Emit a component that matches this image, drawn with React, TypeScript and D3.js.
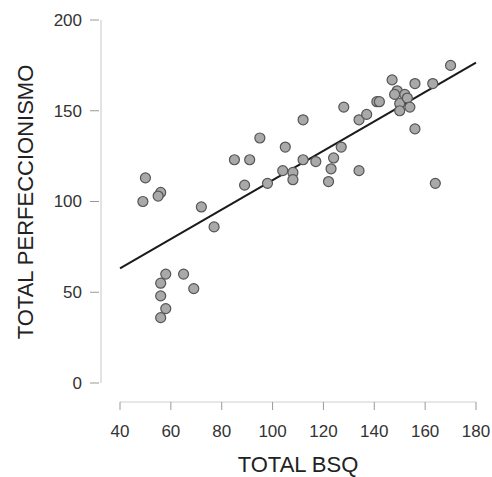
import React, { useRef, useEffect } from "react";
import * as d3 from "d3";

// TOTAL BSQ (x) vs TOTAL PERFECCIONISMO (y)
const bsq = [
  50, 56, 55, 49, 72, 77, 58, 65, 56, 56, 58, 56, 69, 85, 91, 89, 95, 98, 105,
  104, 108, 108, 112, 112, 117, 122, 123, 124, 127, 128, 134, 134, 137, 141,
  142, 147, 149, 148, 150, 150, 152, 153, 154, 156, 156, 163, 164, 170,
];
const perfeccionismo = [
  113, 105, 103, 100, 97, 86, 60, 60, 55, 48, 41, 36, 52, 123, 123, 109, 135,
  110, 130, 117, 116, 112, 145, 123, 122, 111, 118, 124, 130, 152, 117, 145,
  148, 155, 155, 167, 161, 159, 154, 150, 159, 157, 152, 165, 140, 165, 110,
  175,
];
const xTicks = [40, 60, 80, 100, 120, 140, 160, 180];
const yTicks = [0, 50, 100, 150, 200];

const App = () => {
  const chartRef = useRef<HTMLDivElement>(null);

  useEffect(() => {
    document.body.style.margin = "0";
    const width = 492;
    const height = 477;

    const root = d3.select(chartRef.current);
    root.selectAll("*").remove();

    const svg = root
      .append("svg")
      .attr("width", width)
      .attr("height", height)
      .style("display", "block")
      .style("font-family", "'Liberation Sans', Arial, sans-serif");

    const xScale = d3.scaleLinear().domain([40, 180]).range([120, 476]);
    const yScale = d3.scaleLinear().domain([0, 200]).range([383, 20]);

    // least squares fit
    const n = bsq.length;
    const mx = d3.mean(bsq) as number;
    const my = d3.mean(perfeccionismo) as number;
    let sxy = 0;
    let sxx = 0;
    bsq.forEach((x, i) => {
      sxy += (x - mx) * (perfeccionismo[i] - my);
      sxx += (x - mx) * (x - mx);
    });
    const slope = sxy / sxx;
    const intercept = my - slope * mx;

    // x axis
    const xAxis = svg.append("g").attr("transform", "translate(0,402)");
    xAxis
      .append("line")
      .attr("x1", xScale(40))
      .attr("x2", xScale(180))
      .attr("stroke", "#d0d0d0")
      .attr("stroke-width", 1.2);
    const xt = xAxis
      .selectAll("g.tick")
      .data(xTicks)
      .enter()
      .append("g")
      .attr("transform", (d) => `translate(${xScale(d)},0)`);
    xt.append("line").attr("y2", 8).attr("stroke", "#999");
    xt.append("text")
      .attr("y", 35)
      .attr("text-anchor", "middle")
      .attr("font-size", 17)
      .attr("fill", "#333")
      .text((d) => d);

    // y axis
    const yAxis = svg.append("g").attr("transform", "translate(101,0)");
    yAxis
      .append("line")
      .attr("y1", yScale(0))
      .attr("y2", yScale(200))
      .attr("stroke", "#d0d0d0")
      .attr("stroke-width", 1.2);
    const yt = yAxis
      .selectAll("g.tick")
      .data(yTicks)
      .enter()
      .append("g")
      .attr("transform", (d) => `translate(0,${yScale(d)})`);
    yt.append("line").attr("x1", -11).attr("x2", -2).attr("stroke", "#999");
    yt.append("text")
      .attr("x", -19)
      .attr("dy", "0.35em")
      .attr("text-anchor", "end")
      .attr("font-size", 17)
      .attr("fill", "#333")
      .text((d) => d);

    // titles
    svg
      .append("text")
      .attr("x", 298)
      .attr("y", 472)
      .attr("text-anchor", "middle")
      .attr("font-size", 22)
      .attr("fill", "#222")
      .text("TOTAL BSQ");
    svg
      .append("text")
      .attr("transform", "translate(33,202) rotate(-90)")
      .attr("text-anchor", "middle")
      .attr("font-size", 22)
      .attr("fill", "#222")
      .text("TOTAL PERFECCIONISMO");

    // regression line
    svg
      .append("line")
      .attr("x1", xScale(40))
      .attr("y1", yScale(intercept + slope * 40))
      .attr("x2", xScale(180))
      .attr("y2", yScale(intercept + slope * 180))
      .attr("stroke", "#1a1a1a")
      .attr("stroke-width", 2);

    // points
    svg
      .selectAll("circle")
      .data(bsq)
      .enter()
      .append("circle")
      .attr("cx", (d) => xScale(d))
      .attr("cy", (d, i) => yScale(perfeccionismo[i]))
      .attr("r", 5)
      .attr("fill", "#a9a9a9")
      .attr("stroke", "#555")
      .attr("stroke-width", 1.2);
  }, []);

  return <div ref={chartRef}></div>;
};

export default App;
